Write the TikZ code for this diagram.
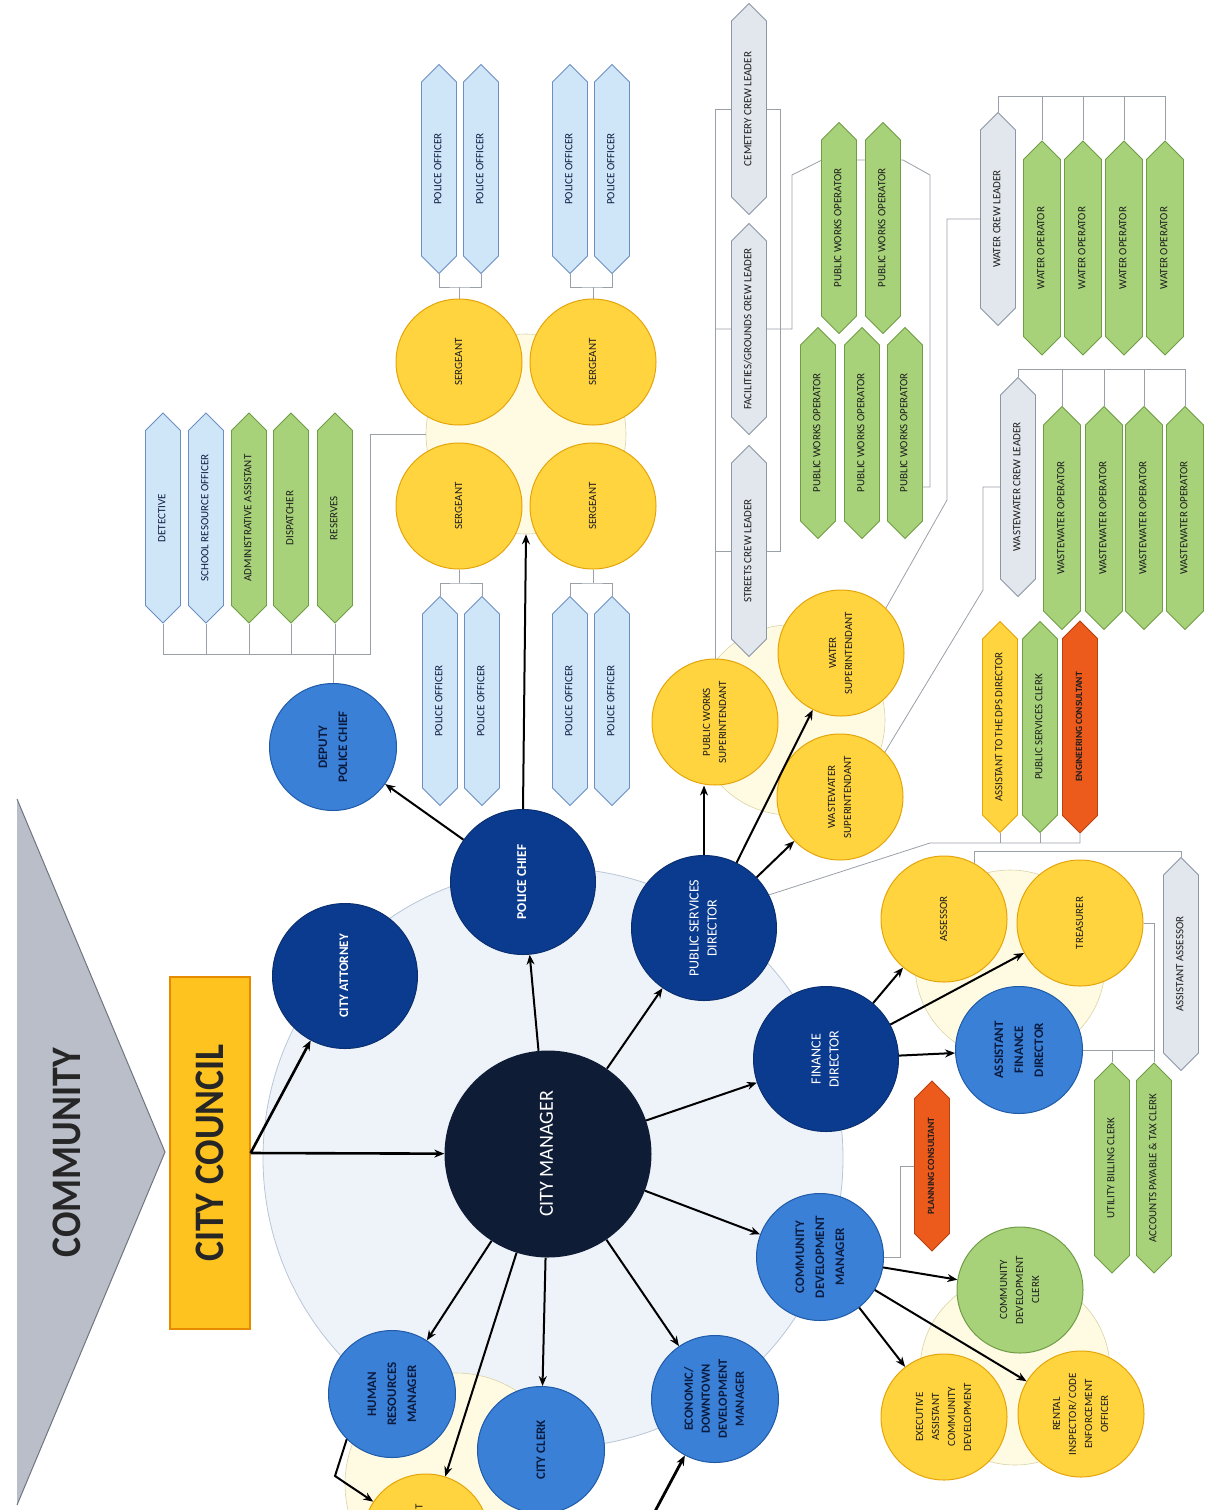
\documentclass[tikz,border=0pt]{standalone}
\usepackage{fontspec}
\usepackage{graphicx}
\setmainfont{Carlito}
\newfontfamily\bigfont{Carlito}[FakeStretch=0.9]
\usetikzlibrary{shapes.symbols,arrows.meta}

\definecolor{cmnavy}{HTML}{0E1C36}
\definecolor{dkblue}{HTML}{0B3B8F}
\definecolor{dkline}{HTML}{0A2F70}
\definecolor{mdblue}{HTML}{3A80D6}
\definecolor{mdline}{HTML}{1F5AA8}
\definecolor{navytxt}{HTML}{0B1B3F}
\definecolor{txtdark}{HTML}{1C1C1C}
\definecolor{ylw}{HTML}{FFD43F}
\definecolor{ylwline}{HTML}{E5A50A}
\definecolor{paleylw}{HTML}{FFFBE2}
\definecolor{palelinec}{HTML}{D9D3A6}
\definecolor{grn}{HTML}{A8D27A}
\definecolor{grnline}{HTML}{6F9D45}
\definecolor{ltblue}{HTML}{CFE6F8}
\definecolor{ltline}{HTML}{6C8FC2}
\definecolor{greybox}{HTML}{E2E7ED}
\definecolor{greyline}{HTML}{8C97A5}
\definecolor{orng}{HTML}{EC5A1C}
\definecolor{orline}{HTML}{B8410F}
\definecolor{ccfill}{HTML}{FFC320}
\definecolor{ccline}{HTML}{E68A00}
\definecolor{trifill}{HTML}{B9BEC9}
\definecolor{triline}{HTML}{70757E}
\definecolor{bgblue}{HTML}{EEF3FA}
\definecolor{bgline}{HTML}{B8C6D8}
\definecolor{linkgray}{HTML}{9AA0A8}

\pgfdeclarelayer{back}
\pgfdeclarelayer{mid}
\pgfsetlayers{back,mid,main}

\newcommand{\vt}[1]{\rotatebox{90}{\begin{tabular}{@{}c@{}}#1\end{tabular}}}

\tikzset{
	cmnode/.style={circle,fill=cmnavy,minimum size=207pt,inner sep=0pt,text=white,font=\fontsize{20}{24}\selectfont},
	dkb/.style={circle,fill=dkblue,draw=dkline,line width=1pt,minimum size=145pt,inner sep=0pt,text=white,font=\fontsize{14}{18}\selectfont},
	mdb/.style={circle,fill=mdblue,draw=mdline,line width=1pt,minimum size=127pt,inner sep=0pt,text=navytxt,font=\bfseries\fontsize{13}{20}\selectfont},
	ylc/.style={circle,fill=ylw,draw=ylwline,line width=1pt,minimum size=126pt,inner sep=0pt,text=txtdark,font=\fontsize{11}{16}\selectfont},
	gnc/.style={ylc,fill=grn,draw=grnline},
	palec/.style={circle,fill=paleylw,draw=palelinec,line width=0.6pt,inner sep=0pt},
	hexbox/.style={signal,signal to=north and south,minimum width=35pt,minimum height=188pt,inner sep=0pt,line width=0.8pt,text=txtdark,font=\fontsize{11}{12}\selectfont},
	lbb/.style={hexbox,fill=ltblue,draw=ltline,text=navytxt},
	gnb/.style={hexbox,fill=grn,draw=grnline},
	gyb/.style={hexbox,fill=greybox,draw=greyline},
	orb/.style={hexbox,fill=orng,draw=orline,font=\bfseries\fontsize{9.5}{11}\selectfont},
	ylb/.style={hexbox,fill=ylw,draw=ylwline},
	arr/.style={-{Stealth[length=10pt,width=8pt]},line width=2pt,draw=black},
	link/.style={draw=linkgray,line width=0.8pt},
}

\begin{document}
\begin{tikzpicture}[x=1pt,y=-1pt]
	\useasboundingbox (0,0) rectangle (1225,1510);

	\begin{pgfonlayer}{back}
		\node[circle,fill=bgblue,draw=bgline,line width=0.8pt,minimum size=580pt] (bgc) at (553,1158) {};
		\node[palec,minimum size=200pt] (sgbg) at (526,434) {};
		\node[palec,minimum size=190pt] (pwbg) at (790,720) {};
		\node[palec,minimum size=190pt] (finbg) at (1010,965) {};
		\node[palec,minimum size=190pt] (cdbg) at (1015,1370) {};
		\node[palec,minimum size=222pt] (hrbg) at (456,1484) {};
	\end{pgfonlayer}

	\fill[trifill] (17,799) -- (165,1152) -- (17,1505) -- cycle;
	\draw[triline,line width=1pt] (17,799) -- (165,1152) -- (17,1505);
	\node[font=\bigfont\bfseries\fontsize{42}{42}\selectfont,text=black!85] (comm) at (67,1153) {\rotatebox{90}{COMMUNITY}};
	\node[draw=ccline,fill=ccfill,line width=1.2pt,minimum width=80pt,minimum height=352pt,inner sep=0pt,font=\bigfont\bfseries\fontsize{42}{42}\selectfont,text=black!85] (cc) at (210,1153) {\rotatebox{90}{CITY COUNCIL}};

	\node[cmnode] (cm) at (548,1154) {\vt{CITY MANAGER}};
	\node[dkb,font=\bfseries\fontsize{13}{16}\selectfont] (att) at (345,976) {\vt{CITY ATTORNEY}};
	\node[dkb,font=\bfseries\fontsize{13.5}{16}\selectfont] (pc) at (523,882) {\vt{POLICE CHIEF}};
	\node[dkb] (psd) at (704,928) {\vt{PUBLIC SERVICES\\DIRECTOR}};
	\node[dkb] (fd) at (826,1059) {\vt{FINANCE\\DIRECTOR}};

	\node[mdb] (cdm) at (820,1257) {\vt{COMMUNITY\\DEVELOPMENT\\MANAGER}};
	\node[mdb,font=\bfseries\fontsize{12.5}{17}\selectfont] (edm) at (715,1399) {\vt{ECONOMIC/\\DOWNTOWN\\DEVELOPMENT\\MANAGER}};
	\node[mdb] (clerk) at (541,1450) {\vt{CITY CLERK}};
	\node[mdb] (hr) at (392,1394) {\vt{HUMAN\\RESOURCES\\MANAGER}};
	\node[mdb] (dpc) at (333,747) {\vt{DEPUTY\\POLICE CHIEF}};
	\node[mdb] (afd) at (1019,1050) {\vt{ASSISTANT\\FINANCE\\DIRECTOR}};

	\node[ylc] (hra) at (426,1537) {};
	\node[text=txtdark,font=\fontsize{11}{13}\selectfont] (hrt) at (419,1507) {\rotatebox{90}{T}};

	% police
	\node[ylc] (sgA) at (459,362) {\vt{SERGEANT}};
	\node[ylc] (sgB) at (593,362) {\vt{SERGEANT}};
	\node[ylc] (sgC) at (459,506) {\vt{SERGEANT}};
	\node[ylc] (sgD) at (593,506) {\vt{SERGEANT}};
	\foreach \n/\x in {poA1/439,poA2/481,poB1/570,poB2/612}
		\node[lbb,minimum height=186pt] (\n) at (\x,169) {\vt{POLICE OFFICER}};
	\foreach \n/\x in {poC1/440,poC2/482,poD1/570,poD2/612}
		\node[lbb,minimum height=186pt] (\n) at (\x,701) {\vt{POLICE OFFICER}};
	\node[lbb,minimum height=187pt] (det) at (163,518) {\vt{DETECTIVE}};
	\node[lbb,minimum height=187pt] (sro) at (206,518) {\vt{SCHOOL RESOURCE OFFICER}};
	\node[gnb,minimum height=187pt] (adm) at (249,518) {\vt{ADMINISTRATIVE ASSISTANT}};
	\node[gnb,minimum height=187pt] (dsp) at (291,518) {\vt{DISPATCHER}};
	\node[gnb,minimum height=187pt] (rsv) at (335,518) {\vt{RESERVES}};

	% public services
	\node[ylc] (pws) at (715,722) {\vt{PUBLIC WORKS\\SUPERINTENDANT}};
	\node[ylc] (wsu) at (841,653) {\vt{WATER\\SUPERINTENDANT}};
	\node[ylc] (wws) at (840,797) {\vt{WASTEWATER\\SUPERINTENDANT}};
	\node[gyb] (cemet) at (749,109) {\vt{CEMETERY CREW LEADER}};
	\node[gyb] (facil) at (749,329) {\vt{FACILITIES/GROUNDS CREW LEADER}};
	\node[gyb] (streets) at (749,551) {\vt{STREETS CREW LEADER}};
	\foreach \n/\x/\y in {pwo1/839/228,pwo2/883/228,pwo3/818/433,pwo4/862/433,pwo5/905/433}
		\node[gnb] (\n) at (\x,\y) {\vt{PUBLIC WORKS OPERATOR}};
	\node[gyb,minimum height=190pt] (wcl) at (998,219) {\vt{WATER CREW LEADER}};
	\foreach \n/\x in {wo1/1042,wo2/1083,wo3/1124,wo4/1165}
		\node[gnb,minimum width=37pt,minimum height=189pt] (\n) at (\x,248) {\vt{WATER OPERATOR}};
	\node[gyb,minimum height=196pt] (wwcl) at (1018,487) {\vt{WASTEWATER CREW LEADER}};
	\foreach \n/\x in {wwo1/1062,wwo2/1104,wwo3/1144,wwo4/1185}
		\node[gnb,minimum width=37pt,minimum height=198pt] (\n) at (\x,518) {\vt{WASTEWATER OPERATOR}};
	\node[ylb] (adps) at (1000,727) {\vt{ASSISTANT TO THE DPS DIRECTOR}};
	\node[gnb] (psc) at (1040,727) {\vt{PUBLIC SERVICES CLERK}};
	\node[orb] (eng) at (1080,727) {\vt{ENGINEERING CONSULTANT}};

	% finance
	\node[ylc] (asr) at (944,919) {\vt{ASSESSOR}};
	\node[ylc] (tre) at (1080,923) {\vt{TREASURER}};
	\node[gyb,minimum height=190pt] (asas) at (1181,964) {\vt{ASSISTANT ASSESSOR}};
	\node[gnb,minimum height=187pt] (ubc) at (1112,1168) {\vt{UTILITY BILLING CLERK}};
	\node[gnb,minimum height=187pt] (apt) at (1154,1168) {\vt{ACCOUNTS PAYABLE \& TAX CLERK}};

	% community development
	\node[orb,minimum height=146pt] (plc) at (932,1166) {\vt{PLANNING CONSULTANT}};
	\node[gnc] (cdc) at (1020,1290) {\vt{COMMUNITY\\DEVELOPMENT\\CLERK}};
	\node[ylc] (exa) at (944,1417) {\vt{EXECUTIVE\\ASSISTANT\\COMMUNITY\\DEVELOPMENT}};
	\node[ylc] (rin) at (1081,1414) {\vt{RENTAL\\INSPECTOR/ CODE\\ENFORCEMENT\\OFFICER}};

	\coordinate (pbar) at (370,654);
	\coordinate (jA) at (459,287);
	\coordinate (jB) at (593,287);
	\coordinate (jC) at (459,583);
	\coordinate (jD) at (593,583);
	\coordinate (crR) at (780,109);
	\coordinate (pwL) at (792,175);
	\coordinate (pwT1) at (822,160);
	\coordinate (pwT2) at (903,160);
	\coordinate (pwR) at (930,175);
	\coordinate (pwB) at (930,487);
	\coordinate (wj) at (947,500);
	\coordinate (wbar) at (1165,96);
	\coordinate (wwj) at (983,590);
	\coordinate (wwbar) at (1185,369);
	\coordinate (dbar) at (930,843);
	\coordinate (fbar) at (974,851);
	\coordinate (pj) at (900,1257);
	\coordinate (hj) at (335,1476);
	\coordinate (edsrc) at (645,1530);

	\begin{pgfonlayer}{mid}
		\draw[link] (det.south) |- (pbar) |- (sgbg.west);
		\foreach \b in {sro,adm,dsp,rsv}
			\draw[link] (\b.south) -- (\b.south |- pbar);
		\draw[link] (dpc.north) -- (dpc.north |- pbar);
		\draw[link] (sgA.north) -- (jA);
		\draw[link] (poA1.south) |- (jA) -| (poA2.south);
		\draw[link] (sgB.north) -- (jB);
		\draw[link] (poB1.south) |- (jB) -| (poB2.south);
		\draw[link] (sgC.south) -- (jC);
		\draw[link] (poC1.north) |- (jC) -| (poC2.north);
		\draw[link] (sgD.south) -- (jD);
		\draw[link] (poD1.north) |- (jD) -| (poD2.north);

		\draw[link] (pws.north) -- (pws.north |- crR) -- (crR) -- (crR |- streets) -- (pws.north |- streets);
		\draw[link] (pws.north |- facil) -- (pwL |- facil) -- (pwL) -- (pwT1) -- (pwT2) -- (pwR) -- (pwB) -- (pwo5.east |- pwB);
		\draw[link] (wsu.north east) -- (wj) |- (wcl.west);
		\draw[link] (wcl.north) |- (wbar) -- (wo4.north);
		\foreach \b in {wo1,wo2,wo3}
			\draw[link] (\b.north) -- (\b.north |- wbar);
		\draw[link] (wws.north east) -- (wwj) |- (wwcl.west);
		\draw[link] (wwcl.north) |- (wwbar) -- (wwo4.north);
		\foreach \b in {wwo1,wwo2,wwo3}
			\draw[link] (\b.north) -- (\b.north |- wwbar);
		\draw[link] (psd.27) -- (dbar) -| (eng.south);
		\foreach \b in {adps,psc}
			\draw[link] (\b.south) -- (\b.south |- dbar);

		\draw[link] (fbar |- finbg.north) -- (fbar) -| (asas.north);
		\draw[link] (afd.east) -| (apt.north);
		\draw[link] (tre.east) -| (apt.north);
		\draw[link] (ubc.north) -- (ubc.north |- afd.east);
		\draw[link] (cdm.east) -- (pj) |- (plc.west);
	\end{pgfonlayer}

	\draw[arr,line width=2.6pt] (cc.east) -- (cm);
	\draw[arr,line width=2.6pt] (cc.east) -- (att);
	\foreach \t in {pc,psd,fd,cdm,edm,clerk,hr,hra}
		\draw[arr] (cm) -- (\t);
	\draw[arr] (pc) -- (dpc);
	\draw[arr] (pc.north) -- (sgbg.south);
	\draw[arr] (psd.north) -- (psd.north |- pws.south);
	\draw[arr] (psd) -- (wsu);
	\draw[arr] (psd) -- (wws);
	\foreach \t in {asr,tre,afd}
		\draw[arr] (fd) -- (\t);
	\foreach \t in {cdc,exa,rin}
		\draw[arr] (cdm) -- (\t);
	\draw[arr] (hr.south west) -- (hj) -- (hra);
	\draw[arr,line width=2.8pt] (edsrc) -- (edm);
\end{tikzpicture}
\end{document}
